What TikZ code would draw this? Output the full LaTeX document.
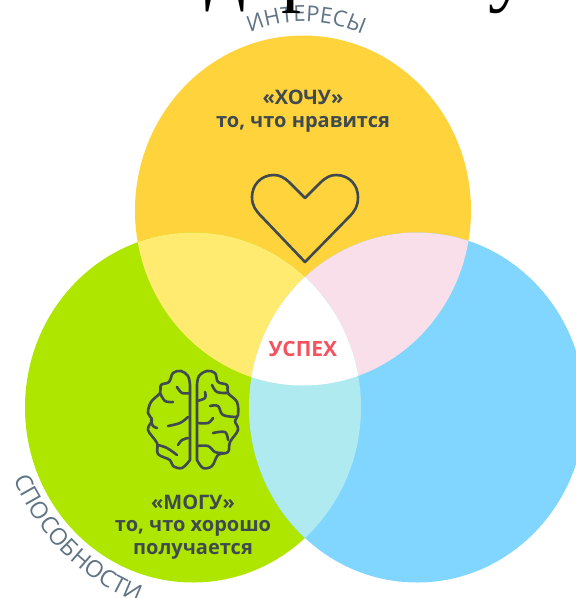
\documentclass[tikz,border=0pt]{standalone}
\usepackage{fontspec}
\setmainfont{Open Sans}
\newfontfamily\topfont{Liberation Serif}
\usetikzlibrary{decorations.text}
\definecolor{wishyellow}{HTML}{FFD33B}
\definecolor{skillgreen}{HTML}{AEE600}
\definecolor{skyblue}{HTML}{80D6FF}
\definecolor{paleyellow}{HTML}{FFEB70}
\definecolor{palepink}{HTML}{F8DFEA}
\definecolor{paleblue}{HTML}{AEEAF0}
\definecolor{inkgrey}{HTML}{3E4A50}
\definecolor{labelgrey}{HTML}{5F7484}
\definecolor{successred}{HTML}{F4525F}
\newcommand{\lobe}{ellipse (168 and 175)}
\tikzset{
    x=1pt, y=-1pt,
    caption/.style={font=\bfseries\fontsize{20}{22.5}\selectfont, text=inkgrey, align=center, inner sep=0pt},
    iconline/.style={draw=inkgrey, line width=2.6pt, line join=round, line cap=round},
    arclabel/.style 2 args={decorate, decoration={text along path, text align=center,
        text={|\fontsize{#1}{#1}\selectfont\color{labelgrey}|#2}}},
    cuttext/.style={font=\topfont\fontsize{80}{80}\selectfont, text=black, anchor=base west, inner sep=0pt},
}
\begin{document}
\begin{tikzpicture}
    \useasboundingbox (0,0) rectangle (576,598);
    \clip (0,0) rectangle (576,598);
    \coordinate (wish) at (303,210.5);
    \coordinate (skill) at (193,407.5);
    \coordinate (blue) at (417,407.5);
    % circles
    \fill[wishyellow] (wish) \lobe;
    \fill[skillgreen] (skill) \lobe;
    \fill[skyblue] (blue) \lobe;
    % overlaps
    \begin{scope}
        \clip (wish) \lobe;
        \fill[paleyellow] (skill) \lobe;
        \fill[palepink] (blue) \lobe;
    \end{scope}
    \begin{scope}
        \clip (skill) \lobe;
        \fill[paleblue] (blue) \lobe;
        \clip (blue) \lobe;
        \fill[white] (wish) \lobe;
    \end{scope}
    % labels round the circles
    \path[arclabel={22}{ИНТЕРЕСЫ}] (240,38) .. controls (275,16) and (335,16) .. (372,40);
    \path[arclabel={23.5}{СПОСОБНОСТИ}] (5,460) .. controls (31,530) and (84,590) .. (158,608);
    % texts
    \node[caption] (wishtext) at (303,111) {«ХОЧУ»\\то, что нравится};
    \node[caption] (skilltext) at (193,527) {«МОГУ»\\то, что хорошо\\получается};
    \node[font=\bfseries\fontsize{21}{21}\selectfont, text=successred, inner sep=0pt] (centre) at (303,349) {УСПЕХ};
    % cut off line at the top
    \node[cuttext] (topd) at (205,-4) {д};
    \node[cuttext] (topr) at (281,-4) {р};
    \node[cuttext] (topu) at (488,-4) {у};
    % heart
    \draw[iconline] (305,198) -- (290,183) .. controls (284,177) and (279,175) .. (274,175)
        .. controls (260,175) and (252,186) .. (252,197)
        .. controls (252,206) and (256,211) .. (262,217)
        -- (305,262) -- (349,217)
        .. controls (355,211) and (358,206) .. (358,197)
        .. controls (358,186) and (350,175) .. (336,175)
        .. controls (331,175) and (326,177) .. (320,183) -- cycle;
    % brain
    \draw[iconline] plot[smooth, tension=0.6] coordinates {(190,385) (188,376) (181,371) (173,373) (169,382) (161,385) (160,393) (151,402) (148,413) (152,420) (148,430) (157,443) (158,454) (170,460) (173,466) (182,468) (190,460)} -- cycle;
    \draw[iconline] plot[smooth, tension=0.6] coordinates {(197,385) (199,376) (207,371) (215,373) (218,382) (227,385) (228,393) (237,402) (238,415) (235,421) (238,430) (230,442) (228,452) (218,455) (212,466) (203,468) (197,460)} -- cycle;
    \draw[iconline] plot[smooth, tension=0.6] coordinates {(177,387) (182,393) (190,393)};
    \draw[iconline] plot[smooth, tension=0.6] coordinates {(160,393) (165,401) (173,402)};
    \draw[iconline] plot[smooth, tension=0.6] coordinates {(168,426) (180,423) (188,417)};
    \draw[iconline] plot[smooth, tension=0.6] coordinates {(151,420) (153,426) (157,428)};
    \draw[iconline] plot[smooth, tension=0.6] coordinates {(178,445) (182,440) (188,438)};
    \draw[iconline] plot[smooth, tension=0.6] coordinates {(158,445) (167,448) (177,455)};
    \draw[iconline] plot[smooth, tension=0.6] coordinates {(212,385) (217,392) (228,393)};
    \draw[iconline] plot[smooth, tension=0.6] coordinates {(197,401) (205,398) (205,392)};
    \draw[iconline] plot[smooth, tension=0.6] coordinates {(210,406) (218,406) (223,415) (237,417)};
    \draw[iconline] plot[smooth, tension=0.6] coordinates {(197,423) (208,423) (213,418)};
    \draw[iconline] plot[smooth, tension=0.6] coordinates {(213,433) (225,432) (228,440)};
    \draw[iconline] plot[smooth, tension=0.6] coordinates {(197,446) (208,446) (215,452) (223,453)};
\end{tikzpicture}
\end{document}
